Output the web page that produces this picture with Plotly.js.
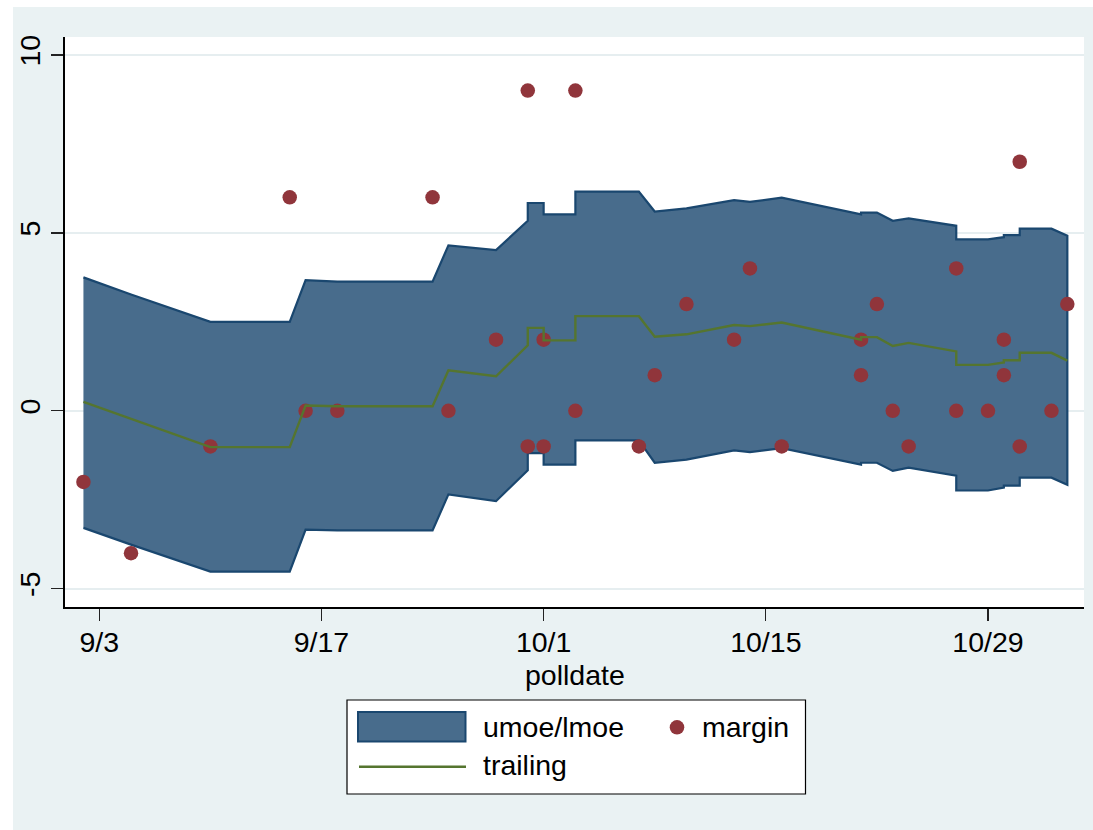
<!DOCTYPE html>
<html>
<head>
<meta charset="utf-8">
<script src="https://cdn.plot.ly/plotly-3.0.1.min.js"></script>
<style>html,body{margin:0;padding:0;background:#fff;}#chart{width:1093px;height:830px;}</style>
</head>
<body>
<div id="chart"></div>
<script>
// ---- data ----
const polldate = ['2012-09-02','2012-09-05','2012-09-10','2012-09-15','2012-09-16','2012-09-18','2012-09-24','2012-09-25','2012-09-28','2012-09-30','2012-09-30','2012-10-01','2012-10-01','2012-10-03','2012-10-03','2012-10-07','2012-10-08','2012-10-10','2012-10-13','2012-10-14','2012-10-16','2012-10-21','2012-10-21','2012-10-22','2012-10-23','2012-10-24','2012-10-27','2012-10-27','2012-10-29','2012-10-30','2012-10-30','2012-10-31','2012-10-31','2012-11-02','2012-11-03'];
const margin   = [-2,-4,-1,6,0,0,6,0,2,-1,9,2,-1,0,9,-1,1,3,2,4,-1,1,2,3,0,-1,4,0,0,1,2,-1,7,0,3];
const trailing = [0.25,-0.23,-1.02,-1.02,0.15,0.13,0.13,1.14,0.97,1.84,2.33,2.33,1.98,1.98,2.66,2.66,2.08,2.15,2.41,2.38,2.48,2.00,2.07,2.07,1.82,1.91,1.67,1.29,1.29,1.36,1.42,1.42,1.63,1.63,1.41];
const umoe     = [3.75,3.27,2.50,2.50,3.67,3.63,3.63,4.65,4.52,5.34,5.84,5.84,5.52,5.52,6.16,6.16,5.60,5.69,5.92,5.87,5.99,5.52,5.57,5.57,5.34,5.41,5.20,4.82,4.82,4.88,4.94,4.94,5.12,5.12,4.92];
const lmoe     = [-3.29,-3.76,-4.52,-4.52,-3.34,-3.36,-3.36,-2.35,-2.54,-1.67,-1.19,-1.19,-1.51,-1.51,-0.83,-0.83,-1.46,-1.37,-1.11,-1.16,-1.05,-1.51,-1.46,-1.46,-1.69,-1.60,-1.82,-2.24,-2.24,-2.16,-2.10,-2.10,-1.88,-1.88,-2.08];
const xTickVals  = ['2012-09-03','2012-09-17','2012-10-01','2012-10-15','2012-10-29'];
const xTickText  = ['9/3','9/17','10/1','10/15','10/29'];
const yTickVals  = [-5,0,5,10];
const yTickText  = ['-5','0','5','10'];
const seriesNames = ['umoe/lmoe','margin','trailing'];
const xTitle = 'polldate';

// ---- styling ----
const NAVY = '#1a476f', FILL = '#486c8c', MAROON = '#90353b', GREEN = '#55752f';
const BG = '#EAF2F3';
const FONT = 'Liberation Sans, Arial, sans-serif';
const FS = 28.5;
const W = 1093, H = 830;
const M = {l: 65, r: 9, t: 37, b: 223};
const PW = W - M.l - M.r, PH = H - M.t - M.b;
const px = x => (x - M.l) / PW;
const py = y => (H - M.b - y) / PH;

const band = {
  x: polldate.concat(polldate.slice().reverse()),
  y: umoe.concat(lmoe.slice().reverse()),
  type: 'scatter', mode: 'lines', fill: 'toself', fillcolor: FILL,
  line: {color: NAVY, width: 2.2}, name: seriesNames[0], hoverinfo: 'skip'
};
const pts = {
  x: polldate, y: margin, type: 'scatter', mode: 'markers', name: seriesNames[1],
  marker: {color: MAROON, size: 14.5, line: {width: 0}}
};
const trail = {
  x: polldate, y: trailing, type: 'scatter', mode: 'lines', name: seriesNames[2],
  line: {color: GREEN, width: 2.4}
};

const legShapes = [
  {type: 'rect', xref: 'paper', yref: 'paper', x0: px(347), x1: px(805.5), y0: py(700), y1: py(794), fillcolor: '#fff', line: {color: '#000', width: 1.2}},
  {type: 'rect', xref: 'paper', yref: 'paper', x0: px(358), x1: px(465.5), y0: py(712), y1: py(741.5), fillcolor: FILL, line: {color: NAVY, width: 2}},
  {type: 'circle', xref: 'paper', yref: 'paper', x0: px(669.7), x1: px(684.3), y0: py(720), y1: py(734.6), fillcolor: MAROON, line: {width: 0}},
  {type: 'line', xref: 'paper', yref: 'paper', x0: px(359), x1: px(466), y0: py(766.7), y1: py(766.7), line: {color: GREEN, width: 2.4}},
  {type: 'rect', xref: 'paper', yref: 'paper', x0: px(0), x1: px(13), y0: py(0), y1: py(H), fillcolor: '#fff', line: {width: 0}},
  {type: 'rect', xref: 'paper', yref: 'paper', x0: px(0), x1: px(W), y0: py(0), y1: py(7), fillcolor: '#fff', line: {width: 0}}
];
const anns = [
  {text: seriesNames[0], x: px(481), y: py(727), xanchor: 'left', yanchor: 'middle'},
  {text: seriesNames[1], x: px(700), y: py(727), xanchor: 'left', yanchor: 'middle'},
  {text: seriesNames[2], x: px(481), y: py(765), xanchor: 'left', yanchor: 'middle'},
  {text: xTitle, x: 0.5, y: py(675), xanchor: 'center', yanchor: 'middle'}
].map(a => Object.assign({xref: 'paper', yref: 'paper', showarrow: false, font: {family: FONT, size: FS, color: '#000'}}, a));

const layout = {
  width: W, height: H, margin: M,
  paper_bgcolor: BG, plot_bgcolor: '#fff',
  font: {family: FONT, size: FS, color: '#000'},
  showlegend: false,
  xaxis: {
    type: 'date', range: ['2012-08-31 20:08', '2012-11-04 01:12'],
    tickvals: xTickVals, ticktext: xTickText,
    ticks: 'outside', ticklen: 12, tickwidth: 1.2, tickcolor: '#222',
    ticklabelstandoff: -3,
    showline: true, linecolor: '#000', linewidth: 1.6, showgrid: false, zeroline: false,
    tickfont: {family: FONT, size: FS, color: '#000'}
  },
  yaxis: {
    range: [-5.514, 10.506],
    tickvals: yTickVals, ticktext: yTickText, tickangle: -90,
    ticks: 'outside', ticklen: 12, tickwidth: 1.2, tickcolor: '#222',
    showline: true, linecolor: '#000', linewidth: 1.6,
    showgrid: true, gridcolor: '#E6EEF0', gridwidth: 2, zeroline: false,
    tickfont: {family: FONT, size: FS, color: '#000'}
  },
  shapes: legShapes,
  annotations: anns
};

Plotly.newPlot('chart', [band, pts, trail], layout, {displayModeBar: false, staticPlot: true});
</script>
</body>
</html>
